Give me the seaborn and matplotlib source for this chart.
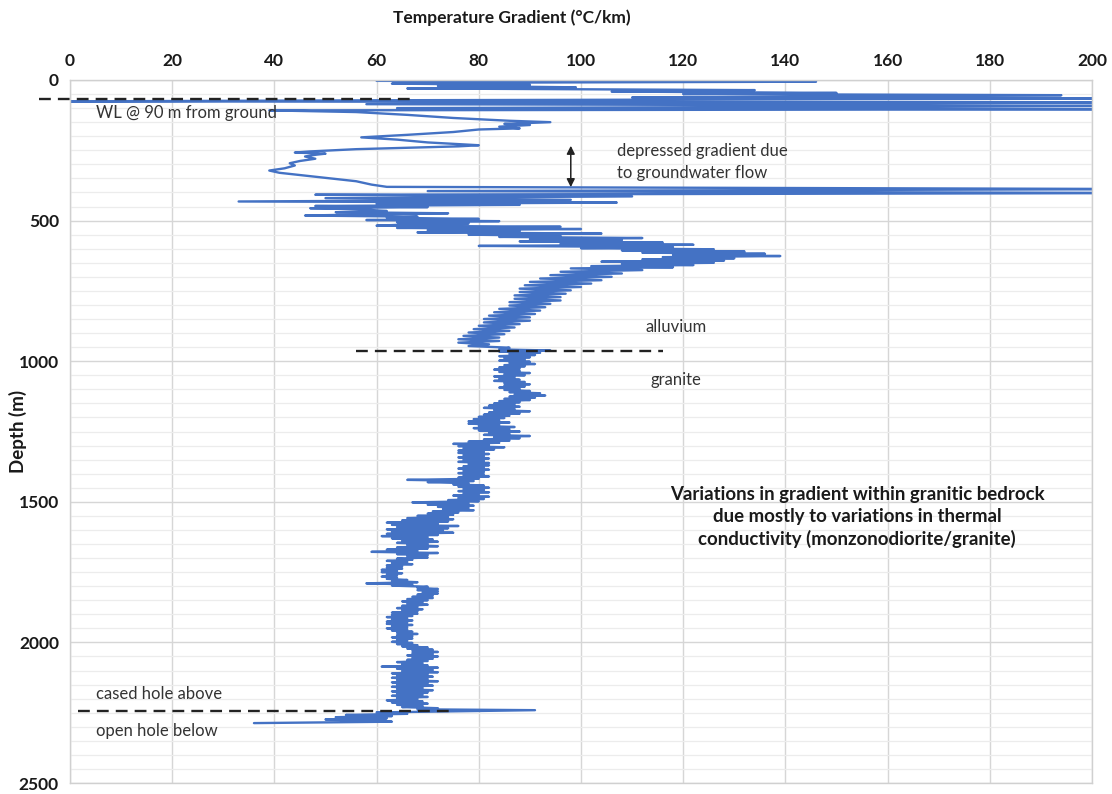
import numpy as np
import pandas as pd
import matplotlib
matplotlib.use("Agg")
import matplotlib.pyplot as plt
import seaborn as sns

# ---- data: (depth m, temperature gradient °C/km) ----
upper_profile = [
    (3, 60), (6, 146), (10, 70), (13, 63), (17, 90), (21, 72), (26, 99), (30, 66),
    (36, 134), (41, 106), (46, 150), (50, 120), (54, 194), (58, 160), (62, 110),
    (66, 215), (72, 62), (76, 0), (80, 215), (86, 58), (92, 215), (100, 64),
    (104, 215), (108, 39), (114, 56), (124, 66), (135, 75), (145, 86), (150, 94),
    (156, 85), (160, 90), (166, 84), (172, 88), (176, 80), (185, 75), (195, 66),
    (204, 57), (212, 64), (222, 70), (232, 80), (236, 76), (240, 68), (246, 56),
    (254, 47), (258, 44), (262, 50), (266, 48), (272, 46), (280, 48), (288, 45),
    (296, 43), (304, 44), (314, 42), (322, 39), (330, 41), (338, 45), (348, 50),
    (360, 56), (372, 59), (380, 62), (388, 215), (395, 70), (402, 215), (408, 48),
    (414, 110), (420, 50), (426, 98), (432, 33), (436, 107), (440, 60), (444, 88),
    (448, 48), (452, 70), (456, 47), (460, 57), (466, 62), (470, 52), (474, 74),
    (478, 58), (482, 46), (486, 68), (490, 62), (494, 80), (498, 58), (502, 84),
    (506, 64), (510, 78), (514, 66),
]

alluvium_profile = [
    (518, 60), (522, 96), (526, 64), (530, 100), (534, 70), (538, 88), (542, 68),
    (546, 104), (550, 78), (554, 96), (558, 84), (562, 112), (566, 90), (570, 108),
    (574, 88), (578, 116), (582, 96), (586, 122), (590, 80), (594, 118), (598, 100),
    (602, 126), (606, 108), (610, 132), (614, 112), (618, 136), (622, 118), (626, 139),
    (630, 116), (634, 130), (638, 112), (642, 128), (646, 104), (650, 126), (654, 108),
    (658, 122), (662, 102), (666, 118), (670, 98), (676, 112), (682, 96), (688, 108),
    (694, 94), (700, 106), (706, 92), (712, 104), (718, 90), (724, 102), (730, 89),
    (736, 100), (742, 88), (748, 98), (754, 88), (760, 97), (766, 87), (772, 96),
    (778, 87), (784, 96), (790, 86), (796, 94), (802, 86), (808, 93), (814, 84),
    (820, 92), (826, 83), (832, 91), (838, 82), (844, 90), (850, 81), (856, 90),
    (862, 81), (868, 88), (874, 80), (880, 87), (886, 79), (892, 86), (898, 78),
    (904, 85), (910, 77), (916, 84), (922, 76), (928, 84), (934, 76), (940, 82),
    (946, 78), (952, 86), (958, 84),
]

granite_profile = [
    (962, 94), (966, 84), (970, 92), (974, 86), (978, 91), (982, 84), (986, 90),
    (990, 85), (994, 89), (998, 84), (1002, 90), (1006, 86), (1010, 91), (1014, 85),
    (1018, 89), (1022, 84), (1026, 88), (1030, 83), (1034, 88), (1038, 84), (1042, 90),
    (1046, 85), (1050, 89), (1054, 83), (1058, 87), (1062, 84), (1066, 88), (1070, 83),
    (1074, 89), (1078, 85), (1082, 90), (1086, 85), (1090, 89), (1094, 84), (1098, 88),
    (1102, 85), (1106, 90), (1110, 86), (1114, 92), (1118, 87), (1122, 93), (1126, 86),
    (1130, 91), (1134, 85), (1138, 90), (1142, 84), (1146, 88), (1150, 83), (1154, 87),
    (1158, 82), (1162, 88), (1166, 81), (1170, 87), (1174, 83), (1178, 90), (1182, 82),
    (1186, 88), (1190, 81), (1194, 86), (1198, 80), (1202, 85), (1206, 79), (1210, 84),
    (1214, 78), (1218, 86), (1222, 78), (1226, 84), (1230, 80), (1234, 87), (1238, 79),
    (1242, 86), (1246, 80), (1250, 88), (1254, 82), (1258, 86), (1262, 81), (1266, 90),
    (1270, 83), (1274, 88), (1278, 81), (1282, 86), (1286, 78), (1290, 84), (1294, 75),
    (1298, 82), (1302, 76), (1306, 85), (1310, 77), (1314, 83), (1318, 76), (1322, 81),
    (1326, 76), (1330, 82), (1334, 77), (1338, 81), (1342, 76), (1346, 82), (1350, 77),
    (1354, 81), (1358, 76), (1362, 82), (1366, 78), (1370, 82), (1374, 77), (1378, 81),
    (1382, 76), (1386, 82), (1390, 77), (1394, 81), (1398, 76), (1402, 81), (1406, 77),
    (1410, 82), (1414, 76), (1418, 80), (1422, 66), (1426, 79), (1430, 70), (1434, 78),
    (1438, 75), (1442, 81), (1446, 76), (1450, 82), (1454, 77), (1458, 81), (1462, 76),
    (1466, 82), (1470, 77), (1474, 80), (1478, 75), (1482, 82), (1486, 76), (1490, 81),
    (1494, 74), (1498, 80), (1502, 67), (1506, 78), (1510, 70), (1514, 79), (1518, 72),
    (1522, 78), (1526, 73), (1530, 79), (1534, 71), (1538, 76), (1542, 70), (1546, 75),
    (1550, 68), (1554, 74), (1558, 66), (1562, 75), (1566, 65), (1570, 74), (1574, 62),
    (1578, 72), (1582, 63), (1586, 76), (1590, 64), (1594, 74), (1598, 62), (1602, 73),
    (1606, 63), (1610, 75), (1614, 62), (1618, 72), (1622, 61), (1626, 70), (1630, 63),
    (1634, 71), (1638, 65), (1642, 72), (1646, 64), (1650, 70), (1654, 66), (1658, 72),
    (1662, 64), (1666, 70), (1670, 62), (1674, 68), (1678, 59), (1682, 72), (1686, 64),
    (1690, 70), (1694, 66), (1698, 70), (1702, 64), (1706, 67), (1710, 62), (1714, 66),
    (1718, 63), (1722, 67), (1726, 62), (1730, 65), (1734, 62), (1738, 65), (1742, 61),
    (1746, 64), (1750, 61), (1754, 65), (1758, 62), (1762, 64), (1766, 61), (1770, 64),
    (1774, 62), (1778, 66), (1782, 63), (1786, 68), (1790, 58), (1794, 67), (1798, 63),
    (1802, 70), (1806, 68), (1810, 72), (1814, 68), (1818, 72), (1822, 69), (1826, 72),
    (1830, 68), (1834, 71), (1838, 67), (1842, 71), (1846, 66), (1850, 70), (1854, 65),
    (1858, 69), (1862, 66), (1866, 70), (1870, 65), (1874, 68), (1878, 64), (1882, 69),
    (1886, 65), (1890, 68), (1894, 63), (1898, 68), (1902, 63), (1906, 67), (1910, 62),
    (1914, 66), (1918, 63), (1922, 67), (1926, 62), (1930, 66), (1934, 62), (1938, 67),
    (1942, 63), (1946, 66), (1950, 62), (1954, 66), (1958, 63), (1962, 67), (1966, 64),
    (1970, 68), (1974, 64), (1978, 67), (1982, 63), (1986, 67), (1990, 64), (1994, 66),
    (1998, 63), (2002, 67), (2006, 64), (2010, 68), (2014, 65), (2018, 70), (2022, 66),
    (2026, 71), (2030, 67), (2034, 72), (2038, 67), (2042, 71), (2046, 66), (2050, 72),
    (2054, 67), (2058, 71), (2062, 66), (2066, 70), (2070, 64), (2074, 69), (2078, 65),
    (2082, 70), (2086, 61), (2090, 72), (2094, 64), (2098, 71), (2102, 65), (2106, 72),
    (2110, 63), (2114, 70), (2118, 64), (2122, 71), (2126, 63), (2130, 70), (2134, 64),
    (2138, 72), (2142, 63), (2146, 70), (2150, 64), (2154, 71), (2158, 63), (2162, 69),
    (2166, 64), (2170, 71), (2174, 63), (2178, 70), (2182, 64), (2186, 69), (2190, 63),
    (2194, 70), (2198, 64), (2202, 68), (2206, 62), (2210, 69), (2214, 63), (2218, 70),
    (2222, 64), (2226, 69), (2230, 65), (2234, 72), (2238, 68), (2241, 91), (2245, 76),
    (2249, 60), (2254, 66), (2258, 54), (2262, 63), (2266, 52), (2270, 62), (2274, 50),
    (2278, 58), (2282, 63), (2287, 36),
]

x_ticks = [0, 20, 40, 60, 80, 100, 120, 140, 160, 180, 200]
y_ticks = [0, 500, 1000, 1500, 2000, 2500]

# annotation boundaries (depth m, gradient start, gradient end)
water_level = (67, -6, 67)
alluvium_base = (962, 56, 116)
casing_base = (2244, 1.5, 75)

# ---- build ----
profile = upper_profile + alluvium_profile + granite_profile
df = pd.DataFrame(profile, columns=["depth", "gradient"])

sns.set_theme(style="white")
plt.rcParams["font.family"] = ["Lato", "DejaVu Sans"]

fig = plt.figure(figsize=(11.12, 7.94), dpi=100)
ax = fig.add_axes([70 / 1112, 1 - 783 / 794, (1092 - 70) / 1112, (783 - 80) / 794])

sns.lineplot(data=df, x="gradient", y="depth", sort=False, estimator=None,
             color="#4472C4", linewidth=1.7, ax=ax)

ax.set_xlim(0, 200)
ax.set_ylim(2500, 0)
ax.xaxis.tick_top()
ax.set_xticks(x_ticks)
ax.set_yticks(y_ticks)
ax.set_yticks(np.arange(0, 2501, 50), minor=True)
ax.set_xticklabels([str(v) for v in x_ticks], fontsize=12.5, fontweight="bold", color="#1a1a1a")
ax.set_yticklabels([str(v) for v in y_ticks], fontsize=12.5, fontweight="bold", color="#1a1a1a")
ax.tick_params(axis="both", which="both", length=0, pad=8)
ax.grid(True, which="major", axis="both", color="#d6d6d6", linewidth=1.0)
ax.grid(True, which="minor", axis="y", color="#ececec", linewidth=0.9)
ax.set_axisbelow(True)
for s in ax.spines.values():
    s.set_color("#d0d0d0")
    s.set_linewidth(1.0)
ax.set_xlabel("")
ax.set_ylabel("")

fig.text(512 / 1112, 1 - 18 / 794, "Temperature Gradient (°C/km)", ha="center", va="center",
         fontsize=12.5, fontweight="bold", color="#1a1a1a")
fig.text(18 / 1112, 1 - 431 / 794, "Depth (m)", ha="center", va="center", rotation=90,
         fontsize=13.5, fontweight="bold", color="#1a1a1a")

dash_kw = dict(color="#222222", linewidth=1.7, linestyle=(0, (5, 3)), clip_on=False)
for d, g0, g1 in (water_level, alluvium_base, casing_base):
    ax.plot([g0, g1], [d, d], **dash_kw)

txt_kw = dict(fontsize=12, color="#333333")
ax.text(5, 117, "WL @ 90 m from ground", ha="left", va="center", **txt_kw)
ax.text(107, 292, "depressed gradient due\nto groundwater flow", ha="left", va="center",
        linespacing=1.5, **txt_kw)
ax.text(118.6, 878, "alluvium", ha="center", va="center", **txt_kw)
ax.text(118.6, 1067, "granite", ha="center", va="center", **txt_kw)
ax.text(5, 2183, "cased hole above", ha="left", va="center", **txt_kw)
ax.text(5, 2315, "open hole below", ha="left", va="center", **txt_kw)
ax.text(154, 1554, "Variations in gradient within granitic bedrock\ndue mostly to variations in thermal\nconductivity (monzonodiorite/granite)",
        ha="center", va="center", fontsize=13.4, fontweight="bold", color="#1a1a1a", linespacing=1.32)

ax.annotate("", xy=(98, 224), xytext=(98, 391),
            arrowprops=dict(arrowstyle="<|-|>", color="#222222", lw=1.1, mutation_scale=12))

fig.savefig("out.png", dpi=100, facecolor="white")
